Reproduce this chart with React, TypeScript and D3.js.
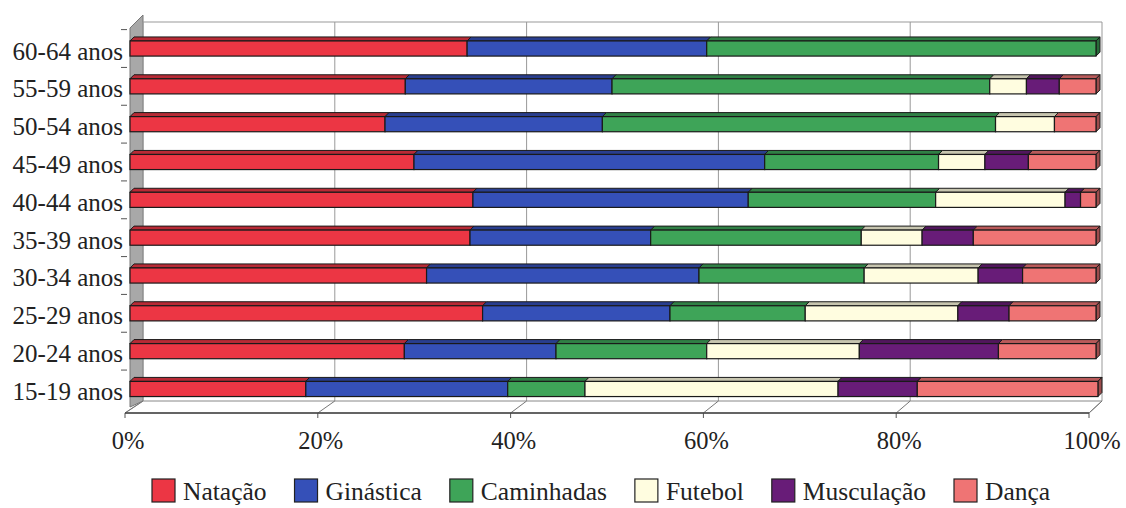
import * as d3 from 'd3';

const categories = ['15-19 anos', '20-24 anos', '25-29 anos', '30-34 anos', '35-39 anos',
    '40-44 anos', '45-49 anos', '50-54 anos', '55-59 anos', '60-64 anos'];

const seriesNames = ['Natação', 'Ginástica', 'Caminhadas', 'Futebol', 'Musculação', 'Dança'];

// percent per age group, same order as categories
const natacao    = [18.2, 28.4, 36.5, 30.7, 35.2, 35.5, 29.4, 26.4, 28.5, 34.9];
const ginastica  = [20.9, 15.7, 19.4, 28.2, 18.7, 28.5, 36.3, 22.5, 21.4, 24.8];
const caminhadas = [8.0, 15.6, 14.0, 17.1, 21.8, 19.4, 18.0, 40.7, 39.1, 40.3];
const futebol    = [26.2, 15.8, 15.8, 11.8, 6.3, 13.4, 4.8, 6.1, 3.8, 0];
const musculacao = [8.2, 14.4, 5.3, 4.6, 5.3, 1.6, 4.5, 0, 3.4, 0];
const danca      = [18.7, 10.1, 9.0, 7.6, 12.7, 1.6, 7.0, 4.3, 3.8, 0];

const xTicks = [0, 20, 40, 60, 80, 100];

const colors = ['#ec3644', '#3550b8', '#3ea458', '#fffde0', '#681c78', '#ef7474'];

const W = 1126, H = 508;
const depth = 4;
const font = '"Liberation Serif", "Times New Roman", serif';

function measure(text: string, size: number) {
    const ctx = document.createElement('canvas').getContext('2d')!;
    ctx.font = `${size}px "Liberation Serif"`;
    return ctx.measureText(text).width;
}

export default function App() {
    const values = [natacao, ginastica, caminhadas, futebol, musculacao, danca];
    const rows = categories.map((c, i) => {
        const r: any = { cat: c };
        seriesNames.forEach((s, j) => { r[s] = values[j][i]; });
        return r;
    });
    const stacked = d3.stack().keys(seriesNames)(rows);

    const x = d3.scaleLinear().domain([0, 100]).range([130, 1096]);
    const xFront = d3.scaleLinear().domain([0, 100]).range([125, 1089]);
    const xBack = d3.scaleLinear().domain([0, 100]).range([143, 1102]);
    const y = d3.scaleBand().domain([...categories].reverse())
        .range([29.6, 407.9]).paddingInner(0.6).paddingOuter(0.3);
    const bh = y.bandwidth();

    const floorFront = 413, floorBack = 401, wallTop = 22;

    // legend layout
    let lx = 152;
    const legend = seriesNames.map((s, i) => {
        const item = { s, x: lx, color: colors[i] };
        lx += 23 + 8 + measure(s, 25.5) + 28;
        return item;
    });

    const lastIdx = (i: number) => {
        let k = 0;
        values.forEach((v, j) => { if (v[i] > 0) k = j; });
        return k;
    };

    return (
        <svg width={W} height={H} style={{ position: 'absolute', left: 0, top: 0, background: '#fff' }}>
            {/* left wall */}
            <polygon points={`130,${wallTop + 6} 143,${wallTop - 7} 143,${floorBack} 130,${floorFront - 6}`}
                fill="#a8a8a8" stroke="#777" strokeWidth={1} />
            {/* back wall */}
            <line x1={xBack(0)} x2={xBack(100)} y1={wallTop} y2={wallTop} stroke="#999" />
            {xTicks.map(t => (
                <line key={'g' + t} x1={xBack(t)} x2={xBack(t)} y1={wallTop} y2={floorBack} stroke="#999" />
            ))}
            {/* floor */}
            <polygon points={`${xFront(0)},${floorFront} ${xBack(0)},${floorBack} ${xBack(100)},${floorBack} ${xFront(100)},${floorFront}`}
                fill="#fff" stroke="#888" />
            {xTicks.map(t => (
                <g key={'f' + t}>
                    <line x1={xFront(t)} x2={xBack(t)} y1={floorFront} y2={floorBack} stroke="#777" />
                    <line x1={xFront(t)} x2={xFront(t)} y1={floorFront} y2={floorFront + 5} stroke="#555" />
                    <text x={xFront(t) + 3} y={449} textAnchor="middle" fontFamily={font} fontSize={24.5} fill="#222">{t}%</text>
                </g>
            ))}
            <line x1={xFront(0)} x2={xFront(100)} y1={floorFront} y2={floorFront} stroke="#444" strokeWidth={1.5} />

            {/* category ticks and labels */}
            {categories.map((c) => (
                <g key={'c' + c}>
                    <line x1={121} x2={127} y1={(y(c) as number) - (y.step() - bh) / 2} y2={(y(c) as number) - (y.step() - bh) / 2} stroke="#555" />
                    <text x={123} y={(y(c) as number) + bh / 2 + 11} textAnchor="end" fontFamily={font} fontSize={25} fill="#222">{c}</text>
                </g>
            ))}

            {/* bars */}
            {stacked.map((layer, j) => layer.map((d, i) => {
                if (d[1] - d[0] <= 0) return null;
                const c = categories[i];
                const x0 = x(d[0]), x1 = x(d[1]);
                const yt = y(c) as number, yb = yt + bh;
                const col = colors[j];
                const dark = d3.color(col)!.darker(0.7).formatHex();
                const darker = d3.color(col)!.darker(1.2).formatHex();
                return (
                    <g key={j + '-' + i}>
                        <polygon points={`${x0},${yt} ${x0 + depth},${yt - depth} ${x1 + depth},${yt - depth} ${x1},${yt}`}
                            fill={dark} stroke="#1a1a1a" strokeWidth={1} />
                        {lastIdx(i) === j && (
                            <polygon points={`${x1},${yt} ${x1 + depth},${yt - depth} ${x1 + depth},${yb - depth} ${x1},${yb}`}
                                fill={darker} stroke="#1a1a1a" strokeWidth={1} />
                        )}
                        <rect x={x0} y={yt} width={x1 - x0} height={bh} fill={col} stroke="#1a1a1a" strokeWidth={1.2} />
                    </g>
                );
            }))}

            {/* legend */}
            {legend.map(l => (
                <g key={'l' + l.s}>
                    <rect x={l.x} y={479} width={23} height={23} fill={l.color} stroke="#222" strokeWidth={1.2} />
                    <text x={l.x + 31} y={500} fontFamily={font} fontSize={25.5} fill="#222">{l.s}</text>
                </g>
            ))}
        </svg>
    );
}
